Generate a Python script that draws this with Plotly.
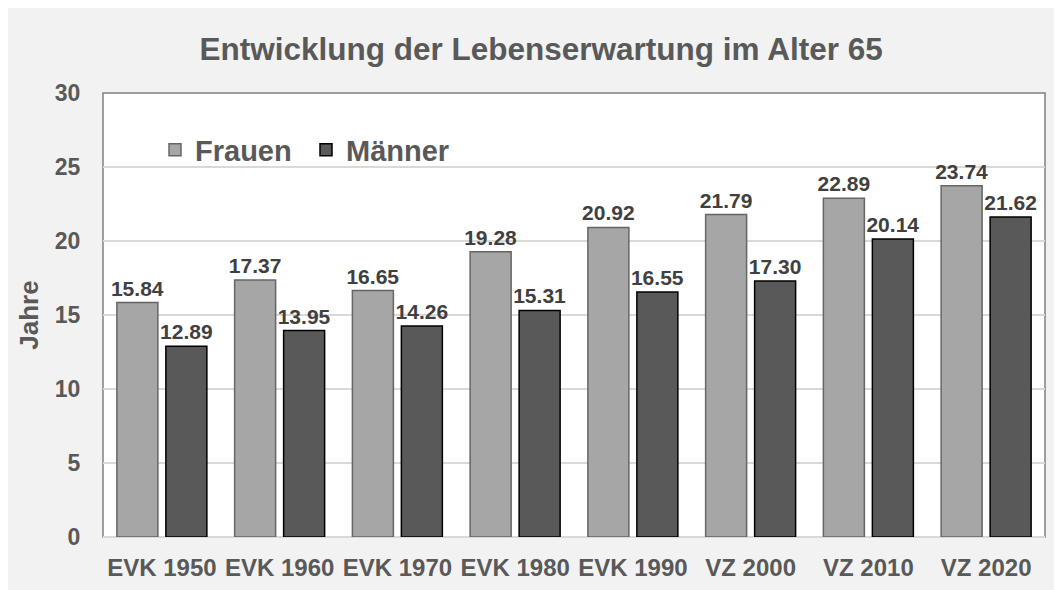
import plotly.graph_objects as go

categories = ["EVK 1950", "EVK 1960", "EVK 1970", "EVK 1980", "EVK 1990", "VZ 2000", "VZ 2010", "VZ 2020"]
frauen = [15.84, 17.37, 16.65, 19.28, 20.92, 21.79, 22.89, 23.74]
maenner = [12.89, 13.95, 14.26, 15.31, 16.55, 17.30, 20.14, 21.62]
y_ticks = [0, 5, 10, 15, 20, 25, 30]

FONT = "Liberation Sans, Arial, sans-serif"
W, H = 1062, 590
L, R, T, B = 95, 25, 85, 61
pw, ph = W - L - R, H - T - B

def px_x(x):
    return (x - L) / pw

def px_y(y):
    return (H - B - y) / ph

fig = go.Figure()
fig.add_trace(go.Bar(
    name="<b>Frauen</b>", x=categories, y=frauen,
    marker=dict(color="#A6A6A6", line=dict(color="#666666", width=1.5)),
    text=frauen, texttemplate="<b>%{y:.2f}</b>", textposition="outside",
    textfont=dict(family=FONT, size=21, color="#404040"), cliponaxis=False,
    constraintext="none",
))
fig.add_trace(go.Bar(
    name="<b>Männer</b>", x=categories, y=maenner,
    marker=dict(color="#595959", line=dict(color="#000000", width=1.5)),
    text=maenner, texttemplate="<b>%{y:.2f}</b>", textposition="outside",
    textfont=dict(family=FONT, size=21, color="#404040"), cliponaxis=False,
    constraintext="none",
))

fig.update_layout(
    width=W, height=H,
    margin=dict(l=L, r=R, t=T, b=B),
    paper_bgcolor="#F2F2F2", plot_bgcolor="white",
    barmode="group", bargap=0.168, bargroupgap=0.163,
    title=dict(text="<b>Entwicklung der Lebenserwartung im Alter 65</b>",
               x=0.502, xanchor="center", y=1 - 41 / H, yanchor="middle",
               font=dict(family=FONT, size=31.5, color="#595959")),
    font=dict(family=FONT, color="#595959"),
    legend=dict(orientation="h", x=px_x(147), y=px_y(142), xanchor="left", yanchor="middle",
                bgcolor="rgba(0,0,0,0)", font=dict(family=FONT, size=29, color="#595959"),
                itemwidth=30, tracegroupgap=0, entrywidth=106, entrywidthmode="pixels"),
    showlegend=True,
    shapes=[
        dict(type="rect", xref="paper", yref="paper", layer="below",
             x0=0, x1=1, y0=0, y1=1,
             fillcolor="rgba(0,0,0,0)", line=dict(color="#808080", width=1.5)),
    ],
)
fig.update_xaxes(
    tickfont=dict(family=FONT, size=24, color="#595959"),
    tickprefix="<b>", ticksuffix="</b>", showgrid=False, showline=False,
    ticks="outside", ticklen=9, tickcolor="rgba(0,0,0,0)",
)
fig.update_yaxes(
    range=[0, 30], tickvals=y_ticks, ticktext=[f"<b>{v}</b>" for v in y_ticks],
    tickfont=dict(family=FONT, size=23, color="#595959"),
    showgrid=True, gridcolor="#D9D9D9", gridwidth=1.5,
    zeroline=True, zerolinecolor="#D9D9D9", zerolinewidth=2,
    ticks="outside", ticklen=17, tickcolor="rgba(0,0,0,0)",
    title=dict(text="<b>Jahre</b>", font=dict(family=FONT, size=26, color="#595959"), standoff=8),
)

fig.write_html("out.html")
